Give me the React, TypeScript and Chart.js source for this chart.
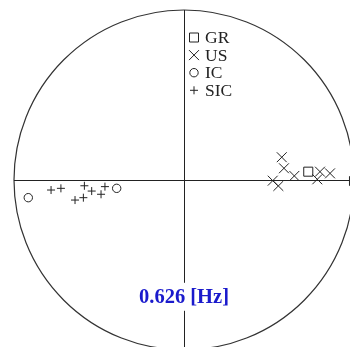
import React, { useEffect, useRef } from "react";
import { Chart, registerables } from "chart.js";

Chart.register(...registerables);

const seriesLabels = ["GR", "US", "IC", "SIC"];
const grX = [0.731, 1.0];
const grY = [0.049, -0.006];
const usX = [0.575, 0.588, 0.649, 0.522, 0.555, 0.8, 0.859, 0.784];
const usY = [0.134, 0.069, 0.024, -0.004, -0.035, 0.049, 0.039, 0.004];
const icX = [-0.916, -0.396];
const icY = [-0.104, -0.049];
const sicX = [-0.782, -0.724, -0.586, -0.543, -0.488, -0.465, -0.641, -0.592];
const sicY = [-0.059, -0.049, -0.034, -0.065, -0.084, -0.039, -0.118, -0.104];
const titleText = "0.626 [Hz]";

const toPts = (xs: number[], ys: number[]) => xs.map((x, i) => ({ x, y: ys[i] }));

const INK = "#222222";

function drawMarker(ctx: CanvasRenderingContext2D, style: string, x: number, y: number) {
  ctx.save();
  ctx.strokeStyle = INK;
  ctx.lineWidth = 1;
  ctx.beginPath();
  if (style === "rect") {
    ctx.rect(x - 4.5, y - 4.5, 9, 9);
  } else if (style === "crossRot") {
    ctx.moveTo(x - 5, y - 5);
    ctx.lineTo(x + 5, y + 5);
    ctx.moveTo(x + 5, y - 5);
    ctx.lineTo(x - 5, y + 5);
  } else if (style === "circle") {
    ctx.arc(x, y, 4.2, 0, Math.PI * 2);
  } else {
    ctx.moveTo(x - 4, y);
    ctx.lineTo(x + 4, y);
    ctx.moveTo(x, y - 4);
    ctx.lineTo(x, y + 4);
  }
  ctx.stroke();
  ctx.restore();
}

const polarPlugin = {
  id: "polarFrame",
  beforeDatasetsDraw(chart: any) {
    const { ctx, scales } = chart;
    const xs = scales.x;
    const ys = scales.y;
    const cx = xs.getPixelForValue(0);
    const cy = ys.getPixelForValue(0);
    const r = xs.getPixelForValue(1) - cx;
    ctx.save();
    ctx.strokeStyle = "#333333";
    ctx.lineWidth = 1.2;
    ctx.beginPath();
    ctx.arc(cx, cy, r, 0, Math.PI * 2);
    ctx.stroke();
    ctx.strokeStyle = "#222222";
    ctx.lineWidth = 1;
    ctx.beginPath();
    ctx.moveTo(xs.getPixelForValue(-1), cy + 0.5);
    ctx.lineTo(xs.getPixelForValue(1), cy + 0.5);
    ctx.moveTo(cx + 0.5, ys.getPixelForValue(1));
    ctx.lineTo(cx + 0.5, ys.getPixelForValue(-1));
    ctx.stroke();
    ctx.restore();
  },
  afterDatasetsDraw(chart: any) {
    const { ctx, scales } = chart;
    const xs = scales.x;
    const ys = scales.y;
    const cx = xs.getPixelForValue(0);
    // title with white background
    ctx.save();
    ctx.font = "bold 20.5px 'Liberation Serif', 'DejaVu Serif', serif";
    const w = ctx.measureText(titleText).width;
    const ty = ys.getPixelForValue(-0.687);
    ctx.fillStyle = "#ffffff";
    ctx.fillRect(cx - w / 2 - 3, ty - 14, w + 6, 28);
    ctx.fillStyle = "#1a1acc";
    ctx.textAlign = "center";
    ctx.textBaseline = "middle";
    ctx.fillText(titleText, cx, ty + 1);
    ctx.restore();

    // legend
    ctx.save();
    ctx.font = "17.5px 'Liberation Serif', 'DejaVu Serif', serif";
    ctx.fillStyle = INK;
    ctx.textAlign = "left";
    ctx.textBaseline = "middle";
    const rowStart = 37.5;
    const rowGap = 17.6;
    chart.data.datasets.forEach((ds: any, i: number) => {
      const yy = rowStart + i * rowGap;
      drawMarker(ctx, ds.pointStyle, cx + 10, yy);
      ctx.fillText(ds.label, cx + 21, yy + 1);
    });
    ctx.restore();
  },
};

export default function App() {
  const ref = useRef<HTMLCanvasElement | null>(null);
  useEffect(() => {
    if (!ref.current) return;
    const common = {
      borderColor: INK,
      backgroundColor: "rgba(0,0,0,0)",
      borderWidth: 1,
      showLine: false,
      clip: false as any,
    };
    const chart = new Chart(ref.current, {
      type: "scatter",
      data: {
        datasets: [
          { ...common, label: seriesLabels[0], data: toPts(grX, grY), pointStyle: "rect", pointRadius: 6.4 },
          { ...common, label: seriesLabels[1], data: toPts(usX, usY), pointStyle: "crossRot", pointRadius: 7 },
          { ...common, label: seriesLabels[2], data: toPts(icX, icY), pointStyle: "circle", pointRadius: 4.2 },
          { ...common, label: seriesLabels[3], data: toPts(sicX, sicY), pointStyle: "cross", pointRadius: 4 },
        ],
      },
      options: {
        animation: false,
        responsive: false,
        devicePixelRatio: 1,
        layout: { padding: { left: 14, top: 10, right: 26, bottom: 30 } },
        scales: {
          x: { type: "linear", min: -1, max: 1, display: false },
          y: { type: "linear", min: -1, max: 1, display: false },
        },
        plugins: {
          legend: { display: false },
          tooltip: { enabled: false },
          title: { display: false },
        },
        events: [],
      },
      plugins: [polarPlugin],
    });
    return () => chart.destroy();
  }, []);
  return (
    <div
      style={{
        position: "fixed",
        left: 0,
        top: 0,
        width: 350,
        height: 347,
        overflow: "hidden",
        background: "#ffffff",
      }}
    >
      <canvas ref={ref} width={380} height={380} style={{ display: "block" }} />
    </div>
  );
}
